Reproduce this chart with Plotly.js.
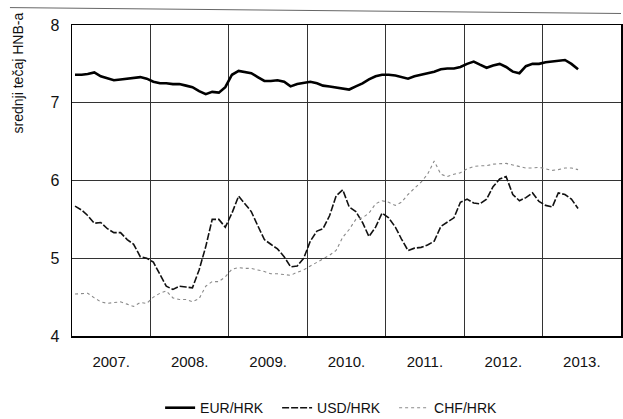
<!DOCTYPE html>
<html><head><meta charset="utf-8">
<script src="https://cdn.plot.ly/plotly-3.0.1.min.js"></script>
<style>html,body{margin:0;padding:0;background:#fff}#chart{width:623px;height:419px}</style>
</head><body><div id="chart"></div>
<script>
// ---- data (monthly averages, Jan 2007 - Jun 2013) ----
const startYear = 2007;
const eurHrk = [
  7.36, 7.36, 7.37, 7.39, 7.34, 7.31, 7.29, 7.30, 7.31, 7.32, 7.33, 7.31,
  7.27, 7.25, 7.25, 7.24, 7.24, 7.22, 7.20, 7.15, 7.11, 7.14, 7.13, 7.20,
  7.36, 7.41, 7.40, 7.38, 7.33, 7.28, 7.28, 7.29, 7.27, 7.21, 7.24, 7.25,
  7.27, 7.25, 7.22, 7.21, 7.20, 7.18, 7.17, 7.21, 7.25, 7.30, 7.34, 7.36,
  7.36, 7.35, 7.33, 7.31, 7.34, 7.36, 7.37, 7.40, 7.43, 7.44, 7.44, 7.46,
  7.50, 7.53, 7.49, 7.45, 7.48, 7.50, 7.46, 7.40, 7.38, 7.47, 7.50, 7.50,
  7.52, 7.53, 7.54, 7.55, 7.50, 7.43
];
const usdHrk = [
  5.67, 5.62, 5.55, 5.45, 5.46, 5.38, 5.33, 5.33, 5.24, 5.18, 5.02, 5.00,
  4.95, 4.78, 4.64, 4.60, 4.64, 4.63, 4.62, 4.85, 5.15, 5.50, 5.50, 5.40,
  5.58, 5.80, 5.70, 5.60, 5.42, 5.24, 5.18, 5.12, 5.02, 4.89, 4.90, 5.00,
  5.22, 5.35, 5.38, 5.55, 5.80, 5.88, 5.66, 5.60, 5.46, 5.28, 5.40, 5.58,
  5.52, 5.40, 5.25, 5.10, 5.13, 5.14, 5.17, 5.22, 5.41, 5.46, 5.52, 5.72,
  5.76, 5.71, 5.70, 5.76, 5.92, 6.02, 6.05, 5.82, 5.74, 5.78, 5.84, 5.73,
  5.68, 5.66, 5.84, 5.82, 5.76, 5.64
];
const chfHrk = [
  4.54, 4.55, 4.55, 4.49, 4.44, 4.42, 4.43, 4.44, 4.41, 4.38, 4.43, 4.42,
  4.50, 4.55, 4.58, 4.49, 4.47, 4.47, 4.44, 4.48, 4.64, 4.70, 4.70, 4.76,
  4.86, 4.88, 4.87, 4.87, 4.85, 4.83, 4.80, 4.80, 4.79, 4.78, 4.82, 4.85,
  4.90, 4.95, 5.00, 5.04, 5.10, 5.27, 5.37, 5.50, 5.52, 5.58, 5.70, 5.74,
  5.72, 5.68, 5.72, 5.82, 5.90, 5.98, 6.08, 6.25, 6.08, 6.05, 6.08, 6.10,
  6.15, 6.18, 6.19, 6.19, 6.21, 6.22, 6.22, 6.20, 6.18, 6.16, 6.16, 6.17,
  6.15, 6.13, 6.14, 6.16, 6.16, 6.14
];
const seriesNames = ['EUR/HRK', 'USD/HRK', 'CHF/HRK'];
const yTickVals = [4, 5, 6, 7, 8];
const yAxisTitle = 'srednji tečaj HNB-a';
const xRange = ['2007-01-01', '2014-01-01'];

// month dates (mid-month) for each observation
const months = eurHrk.map((_, i) => {
  const y = startYear + Math.floor(i / 12), m = (i % 12) + 1;
  return y + '-' + String(m).padStart(2, '0') + '-15';
});

const FONT = '"Liberation Sans Narrow", "Arial Narrow", "Liberation Sans", Arial, sans-serif';

const traces = [
  {x: months, y: eurHrk, name: seriesNames[0], type: 'scatter', mode: 'lines',
   line: {color: '#000', width: 2.6}},
  {x: months, y: usdHrk, name: seriesNames[1], type: 'scatter', mode: 'lines',
   line: {color: '#111', width: 1.6, dash: '7px,2px'}},
  {x: months, y: chfHrk, name: seriesNames[2], type: 'scatter', mode: 'lines',
   line: {color: '#8a8a8a', width: 1.1, dash: 'dot'}}
];

const layout = {
  width: 623, height: 419,
  margin: {l: 72, r: 2, t: 25, b: 83, autoexpand: false},
  paper_bgcolor: '#fff', plot_bgcolor: '#fff',
  font: {family: FONT, size: 15, color: '#111'},
  showlegend: true,
  legend: {orientation: 'h', xref: 'container', yref: 'container',
           x: 0.257, y: 0.026, xanchor: 'left', yanchor: 'middle',
           entrywidth: 72, font: {family: FONT, size: 14, color: '#111'},
           bgcolor: 'rgba(0,0,0,0)'},
  xaxis: {type: 'date', range: xRange, tick0: '2007-01-01', dtick: 'M12',
          ticklabelmode: 'period', tickformat: '%Y.', ticks: '',
          ticklabelstandoff: 11, showgrid: true, gridcolor: '#333', gridwidth: 1,
          showline: true, mirror: true, linecolor: '#000', linewidth: 1.5,
          zeroline: false, automargin: false, tickfont: {family: FONT, size: 15}},
  yaxis: {range: [4, 8], tickvals: yTickVals, ticks: '', ticklabelstandoff: 8,
          showgrid: true, gridcolor: '#333', gridwidth: 1,
          showline: true, mirror: true, linecolor: '#000', linewidth: 1.5,
          zeroline: false, automargin: false, tickfont: {family: FONT, size: 16}},
  annotations: [{text: yAxisTitle, textangle: -90, xref: 'paper', yref: 'paper',
                 x: -0.098, y: 0.845, xanchor: 'center', yanchor: 'middle',
                 showarrow: false, font: {family: FONT, size: 14, color: '#111'}}],
  shapes: [{type: 'line', xref: 'paper', yref: 'paper', x0: -0.113, x1: 1.0,
            y0: 1.056, y1: 1.037, line: {color: '#666', width: 1}}]
};

Plotly.newPlot('chart', traces, layout, {displayModeBar: false, staticPlot: true});
</script>
</body></html>
